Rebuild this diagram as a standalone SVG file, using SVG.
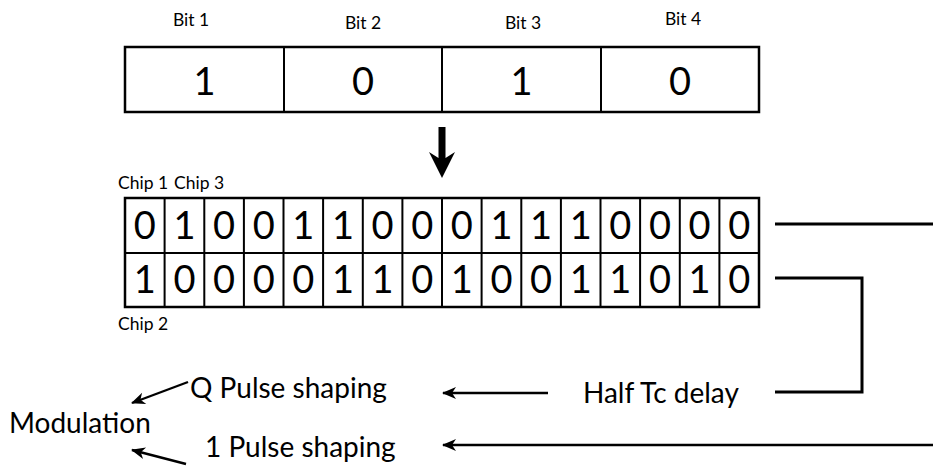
<svg xmlns="http://www.w3.org/2000/svg" width="933" height="466" viewBox="0 0 933 466">
<style>
text{font-family:Lato,"Open Sans","Liberation Sans",sans-serif;fill:#000}
.lbl{font-size:17.5px}
.big{font-size:38px;text-anchor:middle}
.chip{font-size:38px;text-anchor:middle}
.txt{font-size:28px}
.box{fill:#fff;stroke:#000;stroke-width:2.5}
.grid{stroke:#000;stroke-width:2;fill:none}
.con{stroke:#000;stroke-width:3;fill:none}
.arr{stroke:#000;stroke-width:2.4;fill:none;marker-end:url(#ah)}
</style>
<defs>
<marker id="ah" viewBox="-15 -7 17 14" refX="0" refY="0" markerWidth="17" markerHeight="14" markerUnits="userSpaceOnUse" orient="auto">
<path d="M1,0 L-13,-6 L-9,0 L-13,6 Z" fill="#000"/>
</marker>
</defs>
<g id="bits">
<text class="lbl" x="191" y="26" text-anchor="middle">Bit 1</text>
<text class="lbl" x="363" y="29" text-anchor="middle">Bit 2</text>
<text class="lbl" x="523" y="29" text-anchor="middle">Bit 3</text>
<text class="lbl" x="683" y="25" text-anchor="middle">Bit 4</text>
<rect class="box" x="125" y="47" width="634" height="65"/>
<path class="grid" d="M284,47V112M442,47V112M601,47V112"/>
<text class="big" x="204.5" y="95">1</text>
<text class="big" x="363" y="95">0</text>
<text class="big" x="521.5" y="95">1</text>
<text class="big" x="680" y="95">0</text>
</g>
<g id="down-arrow">
<path d="M438.5,127 H445.5 V158 L455,152 L442,178 L429,152 L438.5,158 Z" fill="#000"/>
</g>
<g id="chips">
<text class="lbl" x="118" y="189">Chip 1</text>
<text class="lbl" x="174" y="189">Chip 3</text>
<text class="lbl" x="118" y="330">Chip 2</text>
<rect class="box" x="125" y="198" width="634" height="109"/>
<path class="grid" d="M125,253H759M164.6,198V307M204.3,198V307M243.9,198V307M283.5,198V307M323.1,198V307M362.8,198V307M402.4,198V307M442,198V307M481.6,198V307M521.3,198V307M560.9,198V307M600.5,198V307M640.1,198V307M679.8,198V307M719.4,198V307"/>
<g>
<text class="chip" x="144.8" y="239">0</text><text class="chip" x="184.4" y="239">1</text><text class="chip" x="224.1" y="239">0</text><text class="chip" x="263.7" y="239">0</text><text class="chip" x="303.3" y="239">1</text><text class="chip" x="343" y="239">1</text><text class="chip" x="382.6" y="239">0</text><text class="chip" x="422.2" y="239">0</text><text class="chip" x="461.8" y="239">0</text><text class="chip" x="501.5" y="239">1</text><text class="chip" x="541.1" y="239">1</text><text class="chip" x="580.7" y="239">1</text><text class="chip" x="620.3" y="239">0</text><text class="chip" x="660" y="239">0</text><text class="chip" x="699.6" y="239">0</text><text class="chip" x="739.2" y="239">0</text>
<text class="chip" x="144.8" y="293">1</text><text class="chip" x="184.4" y="293">0</text><text class="chip" x="224.1" y="293">0</text><text class="chip" x="263.7" y="293">0</text><text class="chip" x="303.3" y="293">0</text><text class="chip" x="343" y="293">1</text><text class="chip" x="382.6" y="293">1</text><text class="chip" x="422.2" y="293">0</text><text class="chip" x="461.8" y="293">1</text><text class="chip" x="501.5" y="293">0</text><text class="chip" x="541.1" y="293">0</text><text class="chip" x="580.7" y="293">1</text><text class="chip" x="620.3" y="293">1</text><text class="chip" x="660" y="293">0</text><text class="chip" x="699.6" y="293">1</text><text class="chip" x="739.2" y="293">0</text>
</g>
</g>
<g id="half-tc-delay"><text class="txt" x="583" y="403">Half Tc delay</text></g>
<g id="q-pulse"><text class="txt" x="190" y="398">Q Pulse shaping</text></g>
<g id="i-pulse"><text class="txt" x="205" y="457">1 Pulse shaping</text></g>
<g id="modulation"><text class="txt" x="9" y="433">Modulation</text></g>
<g id="connectors">
<path class="con" d="M775,224H933"/>
<path class="con" d="M775,278H862V392H775"/>
<path class="arr" d="M548,393H443"/>
<path class="arr" d="M933,445H443"/>
<path class="arr" d="M188,382L132,403"/>
<path class="arr" d="M186,464L132,450"/>
</g>
</svg>
